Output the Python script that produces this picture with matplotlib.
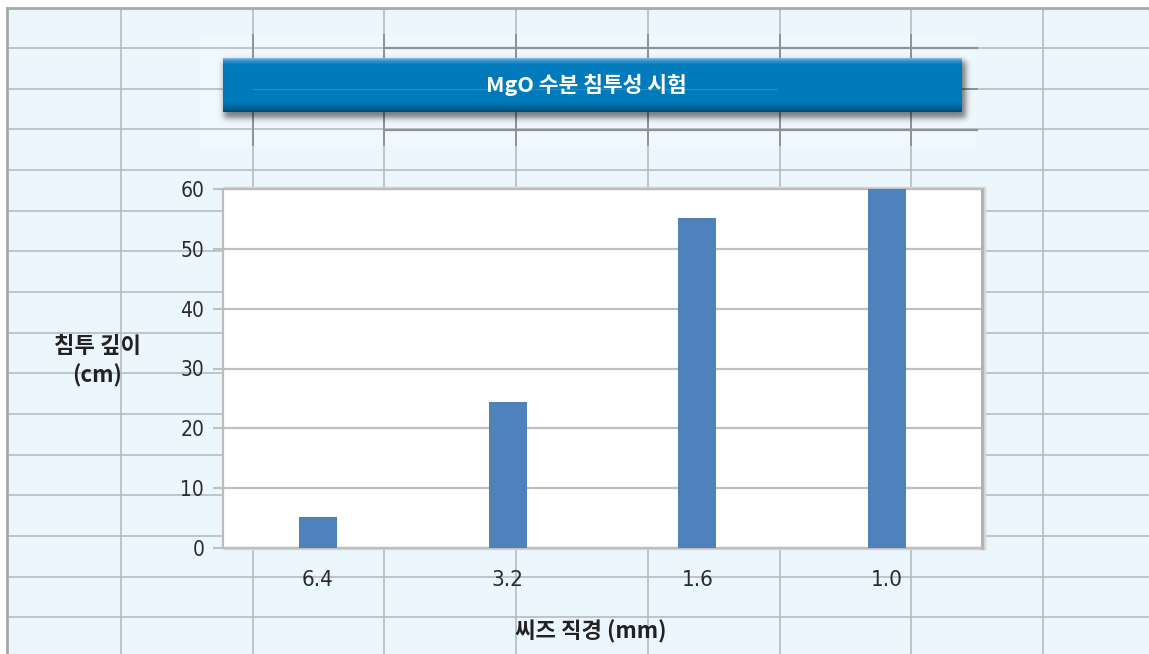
import numpy as np
import matplotlib
matplotlib.use("Agg")
import matplotlib.pyplot as plt
from matplotlib.font_manager import FontProperties

# ---- data ----
sizes = ["6.4", "3.2", "1.6", "1.0"]          # seed diameter (mm)
depths = [5.2, 24.4, 55.2, 60.0]              # penetration depth (cm)
yticks = [0, 10, 20, 30, 40, 50, 60]

title = "MgO 수분 침투성 시험"
ylabel = "침투 깊이\n(cm)"
xlabel = "씨즈 직경 (mm)"

W, H = 1149, 654
fig = plt.figure(figsize=(W / 100, H / 100), dpi=100)
fig.patch.set_facecolor("white")

kr = ["Noto Sans CJK KR", "DejaVu Sans"]
num_fp = FontProperties(family="DejaVu Sans", stretch="condensed", weight="light", size=15)
num_fp_x = FontProperties(family="DejaVu Sans", stretch="condensed", weight="light", size=16)

# ---- background sheet in pixel coordinates ----
bg = fig.add_axes([0, 0, 1, 1])
bg.set_xlim(0, W)
bg.set_ylim(H, 0)
bg.axis("off")
bg.add_patch(plt.Rectangle((7, 8), W, H, color="#ecf6fd", zorder=0))
bg.add_patch(plt.Rectangle((200, 35), 775, 110, color="#eff8fd", zorder=0.5))

grid_c = "#b3b7bf"
dark_c = "#8f9298"
ys = 48 + 40.67 * np.arange(15)
xs = 121 + 131.72 * np.arange(8)
for y in ys:
    bg.plot([7, W], [y, y], color=grid_c, lw=1.1, zorder=1)
for x in xs:
    bg.plot([x, x], [8, H], color=grid_c, lw=1.1, zorder=1)
# darker frame segments around the heading
for y in (48, 130):
    bg.plot([385, 977], [y, y], color=dark_c, lw=1.6, zorder=1.2)
for x in xs[1:7]:
    bg.plot([x, x], [35, 145], color=dark_c, lw=1.4, zorder=1.2)
bg.plot([962, 977], [89, 89], color=dark_c, lw=1.4, zorder=1.2)
# sheet border
bg.plot([7, W], [8, 8], color="#a8a8a8", lw=2.0, zorder=2)
bg.plot([7, 7], [8, H], color="#a8a8a8", lw=2.0, zorder=2)

# ---- heading banner with soft shadow ----
bx0, bx1, by0, by1 = 223, 962, 58, 112
sx0, sx1, sy0, sy1 = 205, 985, 45, 135
xx = np.arange(sx0, sx1) + 0.5
yy = np.arange(sy0, sy1) + 0.5
def soft(v, a, b, s):
    return 0.5 * (np.tanh((v - a) / s) - np.tanh((v - b) / s))
ax_ = soft(xx, bx0 + 1, bx1 + 4, 3.5)
ay_ = soft(yy, by0 + 3, by1 + 6, 3.5)
alpha = np.outer(ay_, ax_) * 0.5
shadow = np.zeros((len(yy), len(xx), 4))
shadow[..., 3] = alpha
bg.imshow(shadow, extent=(sx0, sx1, sy1, sy0), origin="upper",
          aspect="auto", zorder=3, interpolation="bilinear")

t = np.linspace(0, 1, 64)
stops = [0.0, 0.05, 0.12, 0.80, 0.92, 1.0]
r = np.interp(t, stops, [0.50, 0.20, 0.00, 0.00, 0.00, 0.00])
g = np.interp(t, stops, [0.72, 0.56, 0.48, 0.48, 0.40, 0.30])
b = np.interp(t, stops, [0.88, 0.80, 0.73, 0.73, 0.62, 0.47])
grad = np.stack([r, g, b], axis=1)[:, None, :].repeat(8, axis=1)
bg.imshow(grad, extent=(bx0, bx1, by1, by0), origin="upper",
          aspect="auto", zorder=4, interpolation="bilinear")
bg.plot([253, 777], [89, 89], color="white", lw=1.0, alpha=0.15, zorder=4.5)
bg.text(586, 85, title, family=kr, weight="bold", size=15.5, color="white",
        ha="center", va="center", zorder=5)

# frame shadow of the plot area
bg.add_patch(plt.Rectangle((224, 186.5), 761, 362, color="#d6d6d6", zorder=2.5))
bg.set_xlim(0, W)
bg.set_ylim(H, 0)

# ---- chart ----
L, R, T, B = 223, 982, 189, 548
ax = fig.add_axes([L / W, 1 - B / H, (R - L) / W, (B - T) / H], zorder=3)
ax.set_facecolor("white")
pos = np.arange(len(sizes))
ax.bar(pos, depths, width=0.2, color="#4f81bd", zorder=3)
ax.set_xlim(-0.5, len(sizes) - 0.5)
ax.set_ylim(0, 60)
ax.set_yticks(yticks)
ax.set_xticks(pos)
ax.set_xticklabels(sizes)
ax.yaxis.grid(True, color="#c0c0c4", lw=1.6)
ax.set_axisbelow(True)
ax.tick_params(axis="y", length=7.5, width=1.5, color="#bfbfbf", pad=6,
               labelcolor="#2b2b2b")
ax.tick_params(axis="x", length=0, pad=16, labelcolor="#2b2b2b")
for lbl in ax.get_yticklabels():
    lbl.set_fontproperties(num_fp)
for lbl in ax.get_xticklabels():
    lbl.set_fontproperties(num_fp_x)
for side in ("left", "top", "bottom"):
    ax.spines[side].set_color("#bdbdbd")
    ax.spines[side].set_linewidth(1.6)
ax.spines["right"].set_color("#b3b3b3")
ax.spines["right"].set_linewidth(2.2)

fig.text(97 / W, 1 - 361 / H, ylabel, family=kr, weight="bold", size=16,
         color="#222222", ha="center", va="center", linespacing=1.3)
fig.text(591 / W, 1 - 632 / H, xlabel, family=kr, weight="bold", size=16,
         color="#222222", ha="center", va="center")

fig.savefig("out.png", dpi=100)
